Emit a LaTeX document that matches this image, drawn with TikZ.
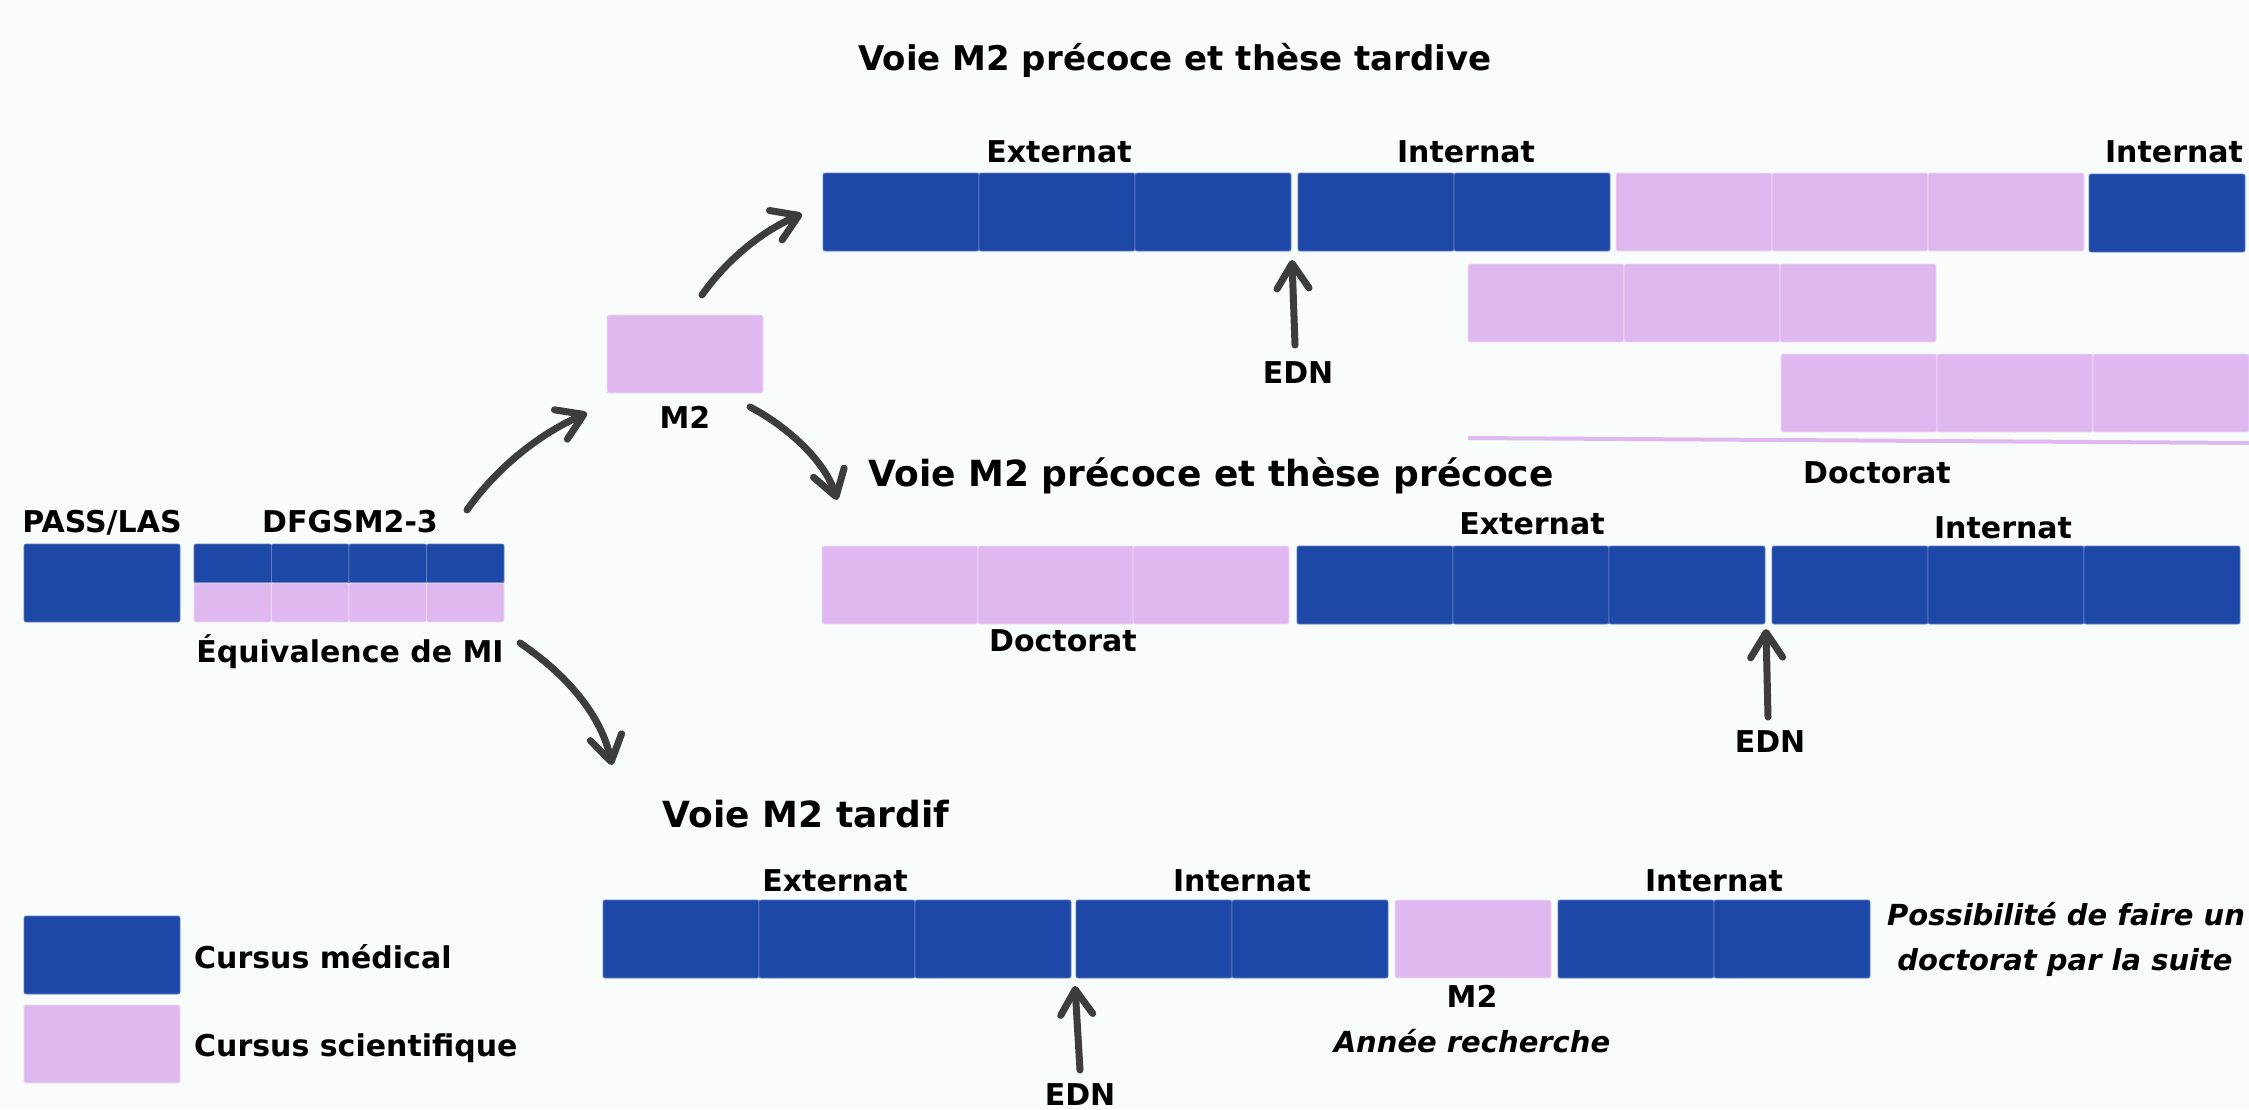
\documentclass[tikz,border=0pt]{standalone}
\usepackage{fontspec}
\setmainfont{DejaVu Sans}
\usetikzlibrary{arrows.meta}
\definecolor{medblue}{RGB}{30,72,168}
\definecolor{scipink}{RGB}{224,184,240}
\definecolor{arrgray}{RGB}{61,61,61}
\definecolor{bgmint}{RGB}{248,252,250}
\tikzset{
  cell/.style={rectangle,anchor=north west,inner sep=0pt,outer sep=0pt,
    minimum width=156pt,minimum height=78pt,rounded corners=2pt},
  medcell/.style={cell,fill=medblue,draw=medblue!70!white,line width=0.8pt},
  scicell/.style={cell,fill=scipink,draw=scipink!50!white,line width=0.8pt},
  halfcell/.style={minimum width=77.5pt,minimum height=39pt},
  lbl/.style={anchor=base,inner sep=0pt,font=\fontsize{30}{36}\selectfont\bfseries},
  ilbl/.style={lbl,font=\fontsize{29}{35}\selectfont\bfseries\itshape},
  ttl/.style={anchor=base,inner sep=0pt,font=\fontsize{36}{43}\selectfont\bfseries},
  arr/.style={arrgray,line width=7pt,line cap=round,
    -{Straight Barb[round,length=25pt,width=32pt]}}
}
\begin{document}
\begin{tikzpicture}[x=1pt,y=-1pt]
    \fill[bgmint] (0,0) rectangle (2249,1109);
    \useasboundingbox (0,0) rectangle (2249,1109);
    % left part
    \node[medcell] (pass) at (24,544) {};
    \foreach \x [count=\i] in {194,271.5,349,426.5} {
      \node[medcell,halfcell] (dfb\i) at (\x,544) {};
      \node[scicell,halfcell] (dfp\i) at (\x,583) {};
    }
    \node[scicell] (mtwo) at (607,315) {};
    \node[lbl] (passlbl) at (102,532) {PASS/LAS};
    \node[lbl] (dfgsmlbl) at (350,532) {DFGSM2-3};
    \node[lbl] (equivlbl) at (350,662) {Équivalence de MI};
    \node[lbl] (mtwolbl) at (685,428) {M2};
    % voie M2 precoce et these tardive
    \node[ttl,font=\fontsize{34}{41}\selectfont\bfseries] (title1) at (1175,70) {Voie M2 précoce et thèse tardive};
    \foreach \x [count=\i] in {823,979,1135} \node[medcell] (tex\i) at (\x,173) {};
    \foreach \x [count=\i] in {1298,1454} \node[medcell] (tin\i) at (\x,173) {};
    \foreach \x [count=\i] in {1616,1772,1928} \node[scicell] (tdoc\i) at (\x,173) {};
    \node[medcell] (tend) at (2089,174) {};
    \foreach \x [count=\i] in {1468,1624,1780} \node[scicell] (tdocb\i) at (\x,264) {};
    \foreach \x [count=\i] in {1781,1937,2093} \node[scicell] (tdocc\i) at (\x,354) {};
    \draw[scipink,line width=4pt] (1468,438) coordinate (dl1) -- (2249,443) coordinate (dl2);
    \node[lbl] (texlbl) at (1059,162) {Externat};
    \node[lbl] (tinlbl) at (1466,162) {Internat};
    \node[lbl] (tendlbl) at (2174,162) {Internat};
    \node[lbl] (tdoclbl) at (1877,483) {Doctorat};
    \node[lbl] (tedn) at (1298,383) {EDN};
    % voie M2 precoce et these precoce
    \node[ttl] (title2) at (1211,486) {Voie M2 précoce et thèse précoce};
    \foreach \x [count=\i] in {822,978,1133} \node[scicell] (pdoc\i) at (\x,546) {};
    \foreach \x [count=\i] in {1297,1453,1609} \node[medcell] (pex\i) at (\x,546) {};
    \foreach \x [count=\i] in {1772,1928,2084} \node[medcell] (pin\i) at (\x,546) {};
    \node[lbl] (pexlbl) at (1532,534) {Externat};
    \node[lbl] (pinlbl) at (2003,538) {Internat};
    \node[lbl] (pdoclbl) at (1063,651) {Doctorat};
    \node[lbl] (pedn) at (1770,752) {EDN};
    % voie M2 tardif
    \node[ttl] (title3) at (806,827) {Voie M2 tardif};
    \foreach \x [count=\i] in {603,759,915} \node[medcell] (lex\i) at (\x,900) {};
    \foreach \x [count=\i] in {1076,1232} \node[medcell] (lin\i) at (\x,900) {};
    \node[scicell] (lmtwo) at (1395,900) {};
    \foreach \x [count=\i] in {1558,1714} \node[medcell] (linb\i) at (\x,900) {};
    \node[lbl] (lexlbl) at (835,891) {Externat};
    \node[lbl] (linlbl) at (1242,891) {Internat};
    \node[lbl] (linblbl) at (1714,891) {Internat};
    \node[lbl] (lmtwolbl) at (1472,1007) {M2};
    \node[ilbl] (lyear) at (1472,1052) {Année recherche};
    \node[ilbl] (lposs1) at (2066,925) {Possibilité de faire un};
    \node[ilbl] (lposs2) at (2065,970) {doctorat par la suite};
    \node[lbl] (ledn) at (1080,1105) {EDN};
    % legend
    \node[medcell] (legmed) at (24,916) {};
    \node[scicell] (legsci) at (24,1005) {};
    \node[lbl,anchor=base west] (legmedlbl) at (194,968) {Cursus médical};
    \node[lbl,anchor=base west] (legscilbl) at (194,1056) {Cursus scientifique};
    % arrows
    \coordinate (a1s) at (467,510);
    \coordinate (a1e) at (587,413);
    \coordinate (a2s) at (702,295);
    \coordinate (a2e) at (802,214);
    \coordinate (a3s) at (750,407);
    \coordinate (a3e) at (837,500);
    \coordinate (a4s) at (520,643);
    \coordinate (a4e) at (612,765);
    \draw[arr] (a1s) .. controls (495,470) and (537,435) .. (a1e);
    \draw[arr] (a2s) .. controls (725,262) and (760,232) .. (a2e);
    \draw[arr] (a3s) .. controls (785,425) and (825,460) .. (a3e);
    \draw[arr] (a4s) .. controls (560,670) and (600,710) .. (a4e);
    \coordinate (e1s) at (1295,345);
    \coordinate (e1e) at (1292,260);
    \coordinate (e2s) at (1768,717);
    \coordinate (e2e) at (1766,629);
    \coordinate (e3s) at (1080,1070);
    \coordinate (e3e) at (1075,986);
    \draw[arr] (e1s) -- (e1e);
    \draw[arr] (e2s) -- (e2e);
    \draw[arr] (e3s) -- (e3e);
\end{tikzpicture}
\end{document}
